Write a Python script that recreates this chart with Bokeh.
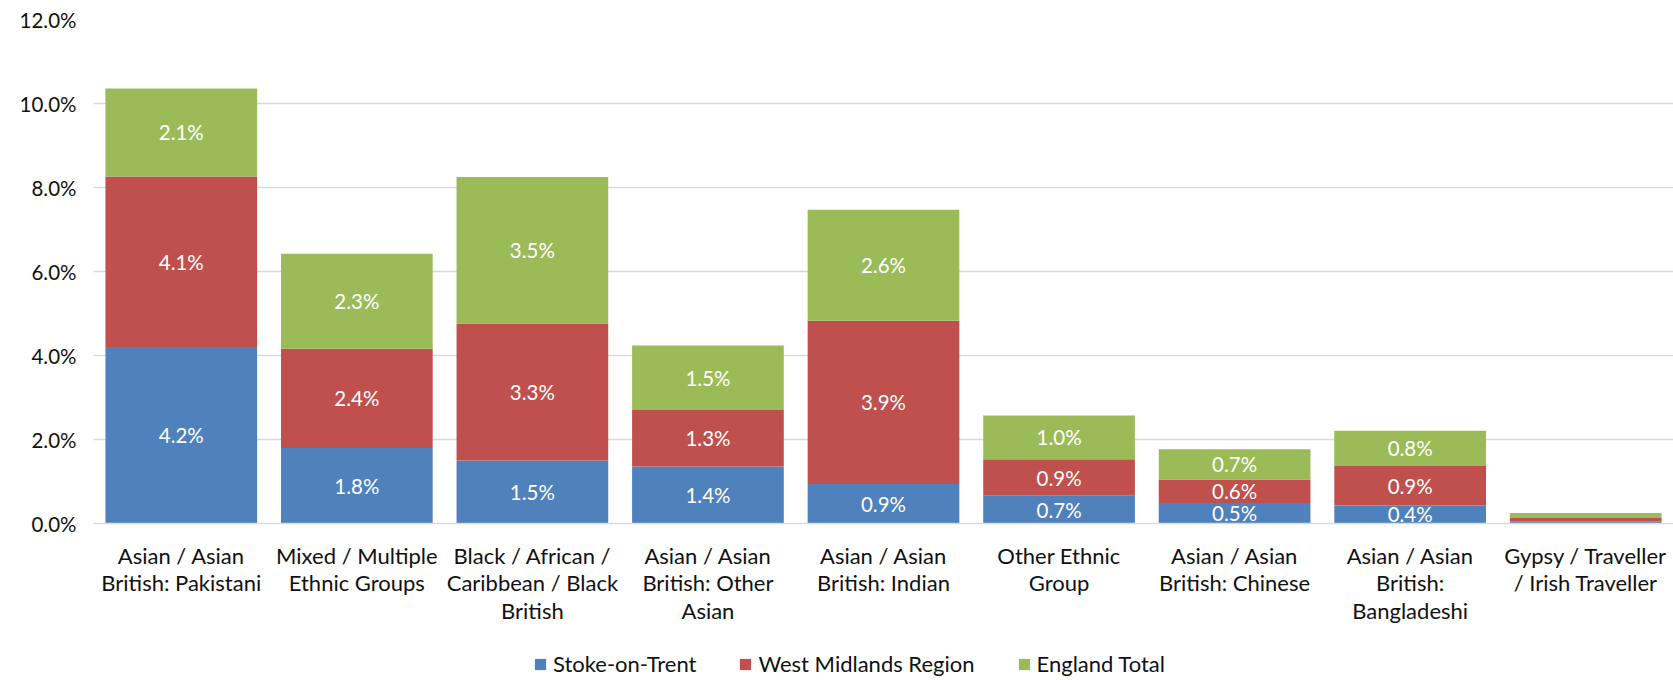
from bokeh.plotting import figure
from bokeh.layouts import column
from bokeh.models import ColumnDataSource, FactorRange, PrintfTickFormatter, Legend, LegendItem, FixedTicker, Range1d
from bokeh.embed import file_html
from bokeh.resources import INLINE
from bokeh.core.properties import value

categories = [
    "Asian / Asian\nBritish: Pakistani",
    "Mixed / Multiple\nEthnic Groups",
    "Black / African /\nCaribbean / Black\nBritish",
    "Asian / Asian\nBritish: Other\nAsian",
    "Asian / Asian\nBritish: Indian",
    "Other Ethnic\nGroup",
    "Asian / Asian\nBritish: Chinese",
    "Asian / Asian\nBritish:\nBangladeshi",
    "Gypsy / Traveller\n/ Irish Traveller",
]
stoke = [4.20, 1.80, 1.50, 1.36, 0.94, 0.66, 0.49, 0.43, 0.05]
west_midlands = [4.06, 2.36, 3.26, 1.34, 3.89, 0.87, 0.56, 0.94, 0.08]
england = [2.10, 2.26, 3.49, 1.54, 2.64, 1.04, 0.72, 0.84, 0.12]
series_names = ["Stoke-on-Trent", "West Midlands Region", "England Total"]
y_ticks = [0, 2, 4, 6, 8, 10, 12]

colors = ["#4F81BD", "#C0504D", "#9BBB59"]
FONT = "Lato"

source = ColumnDataSource(dict(cat=categories, s=stoke, w=west_midlands, e=england))

p = figure(x_range=FactorRange(factors=categories, range_padding=0),
           y_range=Range1d(0, 12),
           width=1673, height=645, output_backend="svg", toolbar_location=None,
           min_border_left=93, min_border_right=0, min_border_top=19, min_border_bottom=122)
p.outline_line_color = None

renderers = p.vbar_stack(["s", "w", "e"], x="cat", width=0.864, color=colors,
                         line_color=None, source=source)

# data labels (skip last category, too small)
lx, ly, lt = [], [], []
for i, c in enumerate(categories[:-1]):
    base = 0.0
    for vals in (stoke, west_midlands, england):
        v = vals[i]
        lx.append(c)
        ly.append(base + v / 2)
        lt.append(f"{v:.1f}%")
        base += v
p.text(x=lx, y=ly, text=lt, text_color="white", text_font=value(FONT),
       text_font_size="20.5px", text_align="center", text_baseline="middle")

p.xgrid.grid_line_color = None
p.ygrid.grid_line_color = "#D9D9D9"
p.ygrid.grid_line_width = 1.3

p.yaxis.ticker = FixedTicker(ticks=y_ticks)
p.yaxis.formatter = PrintfTickFormatter(format="%.1f%%")
p.yaxis.axis_line_color = None
p.yaxis.major_tick_line_color = None
p.yaxis.minor_tick_line_color = None
p.yaxis.major_label_text_font = FONT
p.yaxis.major_label_text_font_size = "20.5px"
p.yaxis.major_label_text_color = "#111111"
p.yaxis.major_label_standoff = 11

p.xaxis.axis_line_color = "#D9D9D9"
p.xaxis.axis_line_width = 1.3
p.xaxis.major_tick_line_color = None
p.xaxis.minor_tick_line_color = None
p.xaxis.major_label_text_font = FONT
p.xaxis.major_label_text_font_size = "22px"
p.xaxis.major_label_text_color = "#111111"
p.xaxis.major_label_text_line_height = 1.02
p.xaxis.major_label_standoff = 12

# legend strip below the chart (its frame is aligned with the chart's frame)
lg = figure(width=1673, height=35, output_backend="svg", toolbar_location=None,
            x_range=Range1d(0, 1), y_range=Range1d(0, 1),
            x_axis_type=None, y_axis_type=None,
            min_border_left=0, min_border_right=0, min_border_top=0, min_border_bottom=0)
lg.outline_line_color = None
lg.xgrid.visible = False
lg.ygrid.visible = False
# zero-height bars: only used to give the legend its colour swatches
swatches = [lg.vbar(x=[0.5], top=[0], bottom=[0], width=0.1, color=c, line_color=None)
            for c in colors]

legend = Legend(items=[LegendItem(label=n, renderers=[r]) for n, r in zip(series_names, swatches)],
                orientation="horizontal", location=(440, 3),
                label_text_font=FONT, label_text_font_size="22px", label_text_color="#111111",
                glyph_width=14, glyph_height=14, spacing=42, label_standoff=6,
                border_line_color=None, background_fill_alpha=0,
                padding=0, margin=0)
lg.add_layout(legend, "center")

open("out.html", "w").write(file_html(column(p, lg), INLINE))
